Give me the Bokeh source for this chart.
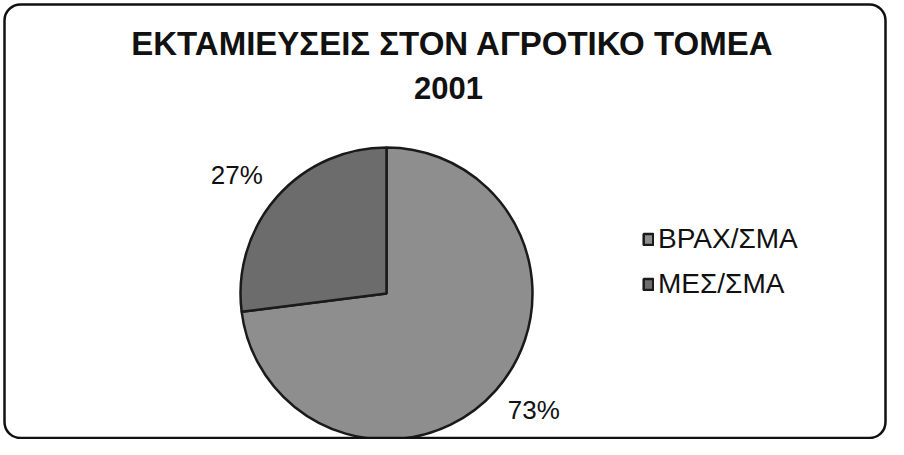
import math
from bokeh.plotting import figure
from bokeh.models import ColumnDataSource, Range1d, Label, BoxAnnotation, Legend, LegendItem
from bokeh.embed import file_html
from bokeh.resources import INLINE
from bokeh.core.properties import value

# ---- data ----
categories = ["ΒΡΑΧ/ΣΜΑ", "ΜΕΣ/ΣΜΑ"]
values = [73, 27]
title_line1 = "ΕΚΤΑΜΙΕΥΣΕΙΣ ΣΤΟΝ ΑΓΡΟΤΙΚΟ ΤΟΜΕΑ"
title_line2 = "2001"

# ---- styles ----
colors = ["#8e8e8e", "#6c6c6c"]
W, H = 888, 439
cx, cy, R = 386, 146, 146
label_r = [188, 191]
label_shift = [3, 3]   # degrees, nudges the label along the rim

total = float(sum(values))
starts, ends, lx, ly, texts = [], [], [], [], []
cum = 0.0
for i, v in enumerate(values):
    a0 = math.pi / 2 - 2 * math.pi * cum / total
    cum += v
    a1 = math.pi / 2 - 2 * math.pi * cum / total
    starts.append(a0)
    ends.append(a1)
    mid = (a0 + a1) / 2 + math.radians(label_shift[i])
    lx.append(cx + label_r[i] * math.cos(mid))
    ly.append(cy + label_r[i] * math.sin(mid))
    texts.append(f"{round(100 * v / total)}%")

src = ColumnDataSource(dict(cat=categories, start=starts, end=ends, color=colors,
                            lx=lx, ly=ly, txt=texts))

p = figure(width=W, height=H, output_backend="svg", toolbar_location=None,
           x_range=Range1d(0, W), y_range=Range1d(0, H), min_border=0)
p.axis.visible = False
p.grid.visible = False
p.outline_line_color = None
p.background_fill_color = "white"
p.border_fill_color = "white"

r = p.wedge(x=cx, y=cy, radius=R, start_angle="start", end_angle="end",
            direction="clock", fill_color="color", line_color="#1a1a1a",
            line_width=2.5, source=src)

p.text(x="lx", y="ly", text="txt", source=src, text_align="center",
       text_baseline="middle", text_font=value("Liberation Sans"),
       text_font_size="26px", text_color="#111111")

legend = Legend(items=[LegendItem(label=value(c), renderers=[r], index=i)
                       for i, c in enumerate(categories)],
                location=(642, 139), padding=0, margin=0, spacing=13,
                glyph_width=12, glyph_height=14, label_standoff=4,
                label_text_font="Liberation Sans", label_text_font_size="28px",
                label_text_color="#111111", border_line_color=None,
                background_fill_alpha=0)
p.add_layout(legend)

p.add_layout(Label(x=452, y=396, text=title_line1, text_align="center",
                   text_baseline="middle", text_font="Liberation Sans",
                   text_font_style="bold", text_font_size="33px", text_color="#111111"))
p.add_layout(Label(x=448, y=352, text=title_line2, text_align="center",
                   text_baseline="middle", text_font="Liberation Sans",
                   text_font_style="bold", text_font_size="31px", text_color="#111111"))

p.add_layout(BoxAnnotation(left=4, right=885, bottom=1.5, top=435,
                           fill_alpha=0, line_color="#111111", line_alpha=1.0,
                           line_width=2.5, border_radius=16))

open("out.html", "w").write(file_html(p, INLINE))
